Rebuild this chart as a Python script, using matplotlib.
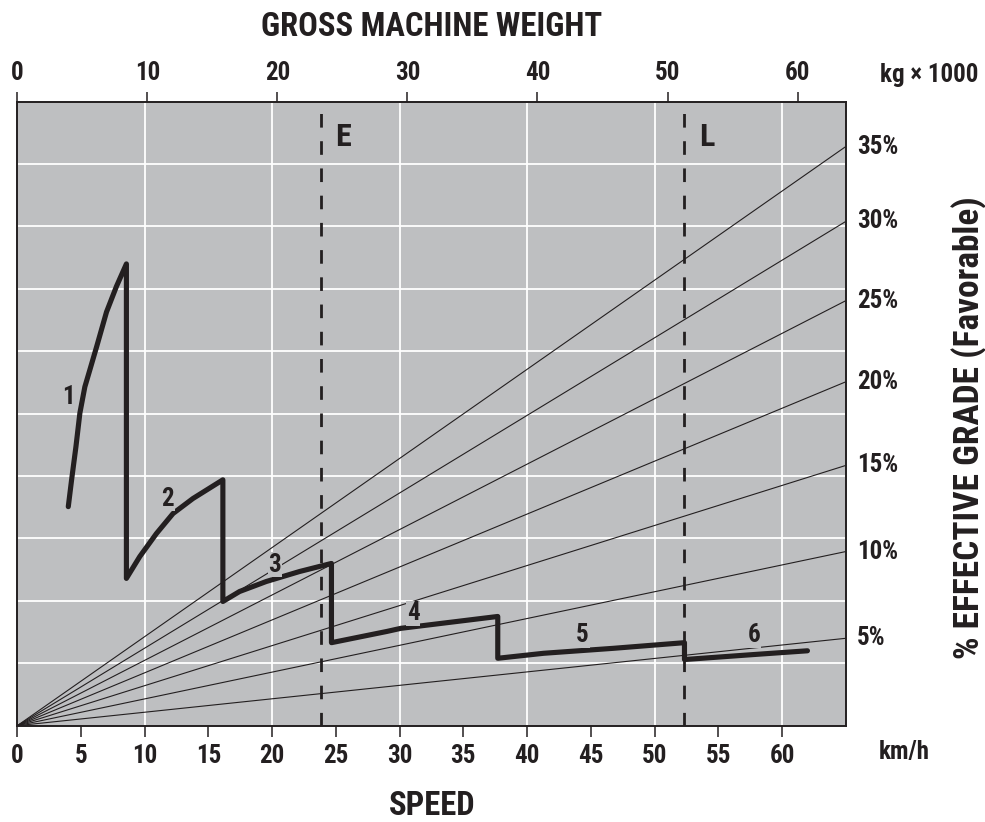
import matplotlib
matplotlib.use("Agg")
import matplotlib.pyplot as plt
import matplotlib.transforms as mtransforms
from matplotlib import font_manager

INK = "#231f20"
PANEL = "#bebfc1"

# speed axis (km/h) and weight axis (kg x 1000)
speed_ticks = [0, 5, 10, 15, 20, 25, 30, 35, 40, 45, 50, 55, 60]
weight_ticks = [0, 10, 20, 30, 40, 50, 60]

# effective grade lines: value reached at the right edge of the chart
grade_labels = ["5%", "10%", "15%", "20%", "25%", "30%", "35%"]
grade_end = [1.40, 2.79, 4.17, 5.51, 6.81, 8.08, 9.28]

# gear curves (speed km/h, rimpull in grid units)
gear1_speed = [4.0, 4.26, 4.60, 4.91, 5.30, 5.69, 6.22, 7.0, 7.78, 8.56]
gear1_pull = [3.51, 3.94, 4.47, 5.01, 5.43, 5.70, 6.07, 6.63, 7.04, 7.40]
gear2_speed = [8.56, 9.61, 10.92, 12.22, 13.78, 16.13]
gear2_pull = [2.36, 2.71, 3.08, 3.40, 3.64, 3.94]
gear3_speed = [16.13, 17.44, 19.53, 22.14, 24.65]
gear3_pull = [1.99, 2.15, 2.31, 2.47, 2.60]
gear4_speed = [24.65, 29.0, 30.1, 34.5, 37.7]
gear4_pull = [1.33, 1.51, 1.56, 1.67, 1.75]
gear5_speed = [37.7, 41.3, 46.8, 52.35]
gear5_pull = [1.08, 1.16, 1.24, 1.33]
gear6_speed = [52.35, 57.8, 62.0]
gear6_pull = [1.06, 1.14, 1.20]

gear_names = ["1", "2", "3", "4", "5", "6"]
gear_label_x = [4.0, 11.8, 20.2, 31.05, 44.35, 57.8]
gear_label_y = [5.27, 3.64, 2.58, 1.80, 1.45, 1.45]

# empty / loaded weights (kg x 1000)
marker_names = ["E", "L"]
marker_weight = [23.35, 51.3]


def pick_font():
    # look for a bold narrow/condensed face, else fall back to Roboto bold
    wanted = ["liberation sans narrow", "roboto condensed", "dejavu sans condensed",
              "open sans condensed", "noto sans condensed", "arial narrow"]
    found = {}
    for f in font_manager.fontManager.ttflist:
        name = f.name.lower()
        fn = f.fname.lower()
        narrow = ("narrow" in name or "condensed" in name or "narrow" in fn
                  or "condensed" in fn or str(f.stretch) in ("condensed", "semi-condensed", "extra-condensed"))
        w = f.weight if isinstance(f.weight, int) else (700 if "bold" in str(f.weight) else 400)
        if narrow and (w >= 600 or "bold" in fn):
            found.setdefault(name, f.fname)
            for key in wanted:
                if key in name or key.replace(" ", "") in fn.replace("-", "").replace("_", ""):
                    found.setdefault(key, f.fname)
    for key in wanted:
        if key in found:
            return font_manager.FontProperties(fname=found[key]), True
    if found:
        return font_manager.FontProperties(fname=list(found.values())[0]), True
    return font_manager.FontProperties(family=["Roboto", "DejaVu Sans"], weight="bold"), False


fp, is_narrow = pick_font()
TICK_SIZE = 18 if is_narrow else 15
TITLE_SIZE = 23.5 if is_narrow else 19
SIDE_SIZE = 25.5 if is_narrow else 20
MARK_SIZE = 23 if is_narrow else 19


def fprop(size):
    p = fp.copy()
    p.set_size(size)
    return p


fig = plt.figure(figsize=(9.85, 8.22), dpi=100)
ax = fig.add_axes([0.01757, 0.1172, 0.8410, 0.7591])
ax.set_facecolor(PANEL)
ax.set_xlim(0, 65)
ax.set_ylim(0, 10)

for v in range(10, 61, 10):
    ax.axvline(v, color="white", lw=1.3, zorder=1)
for h in range(1, 10):
    ax.axhline(h, color="white", lw=1.3, zorder=1)

for g in grade_end:
    ax.plot([0, 65], [0, g], color=INK, lw=0.8, zorder=2, solid_capstyle="butt")

trans = mtransforms.blended_transform_factory(ax.transAxes, ax.transData)
for lab, g in zip(grade_labels, grade_end):
    ax.text(1.014, g, lab, transform=trans, ha="left", va="center",
            fontproperties=fprop(TICK_SIZE), color=INK, clip_on=False)

gears = [(gear1_speed, gear1_pull), (gear2_speed, gear2_pull),
         (gear3_speed, gear3_pull), (gear4_speed, gear4_pull),
         (gear5_speed, gear5_pull), (gear6_speed, gear6_pull)]
xs, ys = [], []
for sp, pl in gears:
    xs += sp
    ys += pl
ax.plot(xs, ys, color=INK, lw=3.7, zorder=4, solid_joinstyle="round",
        solid_capstyle="round")

for name, x, y in zip(gear_names, gear_label_x, gear_label_y):
    ax.text(x, y, name, ha="center", va="center", fontproperties=fprop(TICK_SIZE),
            color=INK, zorder=5, bbox=dict(facecolor=PANEL, edgecolor="none", pad=0.5))

for s in ax.spines.values():
    s.set_color(INK)
    s.set_linewidth(1.4)

ax.set_xticks(speed_ticks)
ax.set_xticklabels([str(t) for t in speed_ticks], fontproperties=fprop(TICK_SIZE))
ax.set_yticks([])
ax.tick_params(axis="x", direction="out", length=8, width=1.1, color=INK,
               labelcolor=INK, pad=5)

top = ax.twiny()
top.set_xlim(0, 63.7)
top.set_xticks(weight_ticks)
top.set_xticklabels([str(t) for t in weight_ticks], fontproperties=fprop(TICK_SIZE))
top.tick_params(axis="x", direction="out", length=7, width=1.1, color=INK,
                labelcolor=INK, pad=5)
for s in top.spines.values():
    s.set_visible(False)

for name, w in zip(marker_names, marker_weight):
    top.axvline(w, color=INK, lw=2.0, dashes=(4.9, 4.9), zorder=3)
    top.text(w + 1.1, 9.44, name, ha="left", va="center",
             fontproperties=fprop(MARK_SIZE), color=INK)

fig.text(880 / 985, 1 - 75 / 822, "kg × 1000", ha="left", va="center",
         fontproperties=fprop(TICK_SIZE), color=INK)
fig.text(879 / 985, 1 - 752 / 822, "km/h", ha="left", va="center",
         fontproperties=fprop(TICK_SIZE), color=INK)
fig.text(432 / 985, 1 - 27 / 822, "GROSS MACHINE WEIGHT", ha="center",
         va="center", fontproperties=fprop(TITLE_SIZE), color=INK)
fig.text(432 / 985, 1 - 806 / 822, "SPEED", ha="center", va="center",
         fontproperties=fprop(TITLE_SIZE), color=INK)
fig.text(969 / 985, 1 - 428 / 822, "% EFFECTIVE GRADE (Favorable)",
         ha="center", va="center", rotation=90, fontproperties=fprop(SIDE_SIZE),
         color=INK)

fig.savefig("out.png", dpi=100)
